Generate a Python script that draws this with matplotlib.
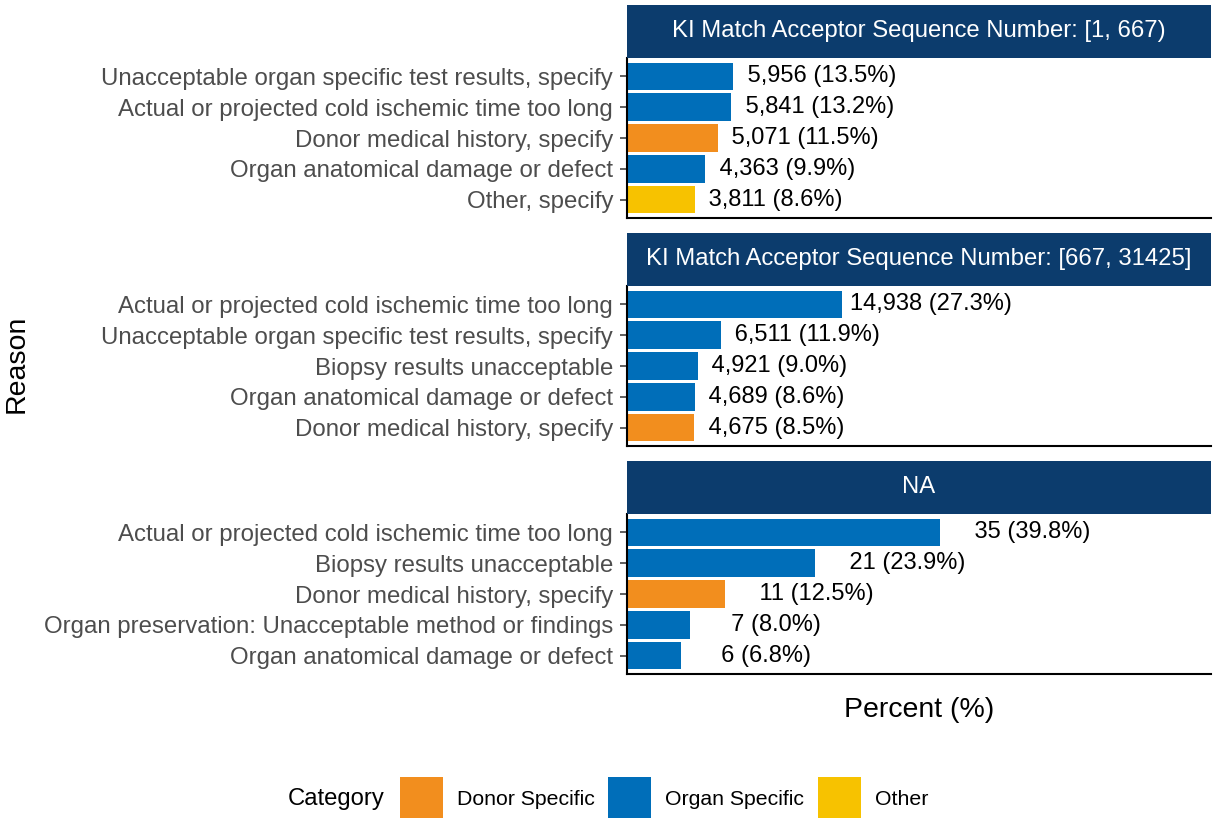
import matplotlib
matplotlib.use("Agg")
import matplotlib.pyplot as plt
from matplotlib.patches import Patch

plt.rcParams['font.family'] = ['Liberation Sans', 'DejaVu Sans']

# ---------------- data ----------------
facet_titles = [
    "KI Match Acceptor Sequence Number: [1, 667)",
    "KI Match Acceptor Sequence Number: [667, 31425]",
    "NA",
]

reasons_1 = [
    "Unacceptable organ specific test results, specify",
    "Actual or projected cold ischemic time too long",
    "Donor medical history, specify",
    "Organ anatomical damage or defect",
    "Other, specify",
]
counts_1 = [5956, 5841, 5071, 4363, 3811]
pct_1 = [13.5, 13.2, 11.5, 9.9, 8.6]
cats_1 = ["Organ Specific", "Organ Specific", "Donor Specific", "Organ Specific", "Other"]

reasons_2 = [
    "Actual or projected cold ischemic time too long",
    "Unacceptable organ specific test results, specify",
    "Biopsy results unacceptable",
    "Organ anatomical damage or defect",
    "Donor medical history, specify",
]
counts_2 = [14938, 6511, 4921, 4689, 4675]
pct_2 = [27.3, 11.9, 9.0, 8.6, 8.5]
cats_2 = ["Organ Specific", "Organ Specific", "Organ Specific", "Organ Specific", "Donor Specific"]

reasons_3 = [
    "Actual or projected cold ischemic time too long",
    "Biopsy results unacceptable",
    "Donor medical history, specify",
    "Organ preservation: Unacceptable method or findings",
    "Organ anatomical damage or defect",
]
counts_3 = [35, 21, 11, 7, 6]
pct_3 = [39.8, 23.9, 12.5, 8.0, 6.8]
cats_3 = ["Organ Specific", "Organ Specific", "Donor Specific", "Organ Specific", "Organ Specific"]

legend_categories = ["Donor Specific", "Organ Specific", "Other"]
category_colors = {"Donor Specific": "#F28E1E", "Organ Specific": "#006EB9", "Other": "#F7C200"}

facets = [
    (reasons_1, counts_1, pct_1, cats_1),
    (reasons_2, counts_2, pct_2, cats_2),
    (reasons_3, counts_3, pct_3, cats_3),
]

# ---------------- layout ----------------
W, H = 1214, 818
fig = plt.figure(figsize=(W / 100, H / 100), dpi=100)

panel_left, panel_right = 627, 1211
panel_top0, panel_h, step = 58, 160, 228
strip_h = 53
strip_color = "#0C3C6D"
xmax = 74.2

all_counts = counts_1 + counts_2 + counts_3
nwidth = max(len(f"{c:,}") for c in all_counts)

for k, (reasons, counts, pcts, cats) in enumerate(facets):
    top = panel_top0 + k * step
    ax = fig.add_axes([panel_left / W, 1 - (top + panel_h) / H,
                       (panel_right - panel_left) / W, panel_h / H])
    y = list(range(len(reasons)))
    ax.barh(y, pcts, height=0.9, color=[category_colors[c] for c in cats])
    for yi, n, p in zip(y, counts, pcts):
        lab = f"{f'{n:,}':>{nwidth}} ({p:.1f}%)"
        ax.annotate(lab, (p, yi), xytext=(5.5, 0), textcoords="offset points",
                    ha="left", va="center", fontsize=17, color="black")
    ax.set_xlim(0, xmax)
    ax.set_ylim(len(reasons) - 0.4, -0.6)
    ax.set_yticks(y)
    ax.set_yticklabels(reasons, fontsize=17.3, color="#4D4D4D")
    ax.set_xticks([])
    ax.tick_params(axis="y", length=5, width=1.1, color="#333333", pad=5)
    for s in ["top", "right"]:
        ax.spines[s].set_visible(False)
    for s in ["left", "bottom"]:
        ax.spines[s].set_linewidth(1.5)
        ax.spines[s].set_color("black")

    sax = fig.add_axes([panel_left / W, 1 - top / H,
                        (panel_right - panel_left) / W, strip_h / H])
    sax.set_facecolor(strip_color)
    sax.set_xticks([]); sax.set_yticks([])
    for s in sax.spines.values():
        s.set_visible(False)
    sax.text(0.5, 0.5, facet_titles[k], ha="center", va="center",
             color="white", fontsize=17.2, transform=sax.transAxes)

# axis titles
fig.text(17 / W, 1 - 364 / H, "Reason", rotation=90, ha="center", va="center",
         fontsize=20.5, color="black")
fig.text((panel_left + panel_right) / 2 / W, 1 - 710 / H, "Percent (%)",
         ha="center", va="center", fontsize=20.5, color="black")

# legend
fig.text(288 / W, 1 - 798.5 / H, "Category", ha="left", va="center",
         fontsize=17.2, color="black")
handles = [Patch(facecolor=category_colors[c], edgecolor="none", label=c)
           for c in legend_categories]
fs = 15.3
fig.legend(handles=handles, loc="center left",
           bbox_to_anchor=(400 / W, 1 - 798.5 / H), ncol=3, frameon=False,
           fontsize=fs, handlelength=2.03, handleheight=2.74,
           handletextpad=0.66, columnspacing=0.62, borderpad=0,
           borderaxespad=0)

fig.savefig("out.png", dpi=100)
